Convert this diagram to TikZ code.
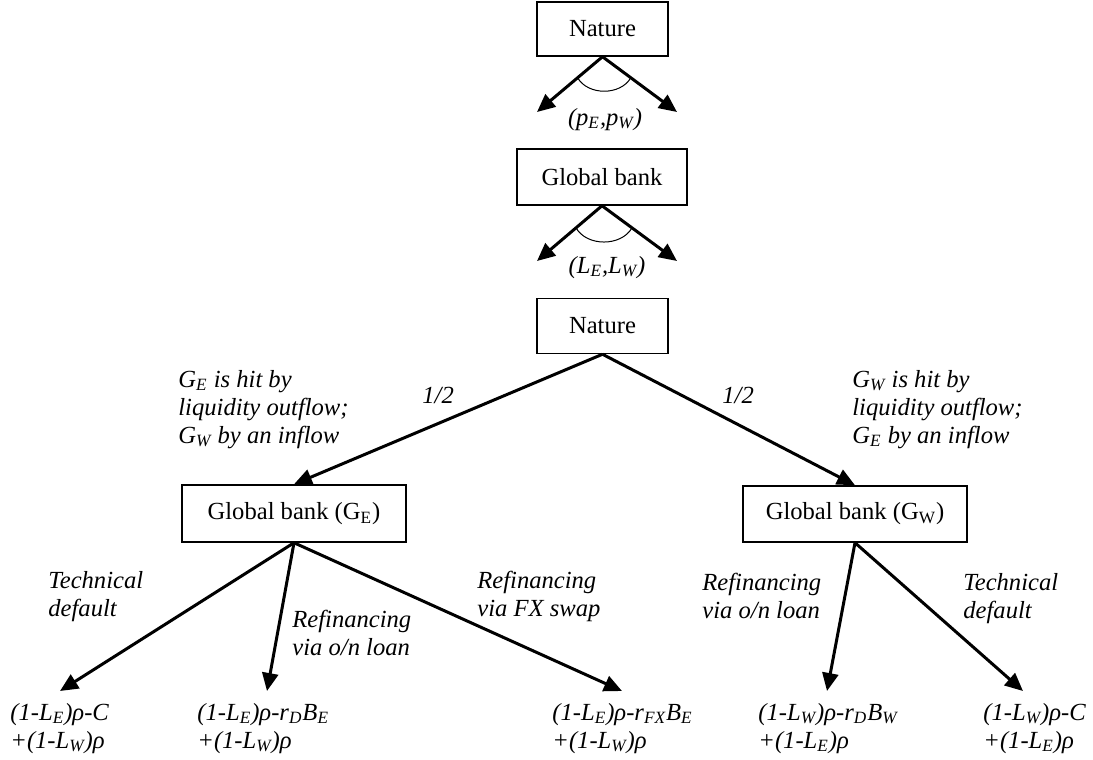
\documentclass[tikz,border=0pt]{standalone}
\usepackage{fontspec}
\setmainfont{Liberation Serif}
\usetikzlibrary{arrows.meta,calc}

\begin{document}
\begin{tikzpicture}[x=0.5pt,y=-0.5pt]
  \tikzset{BoxStyle/.style = {
    shape         = rectangle,
    draw          = black,
    fill          = white,
    line width    = 0.75pt,
    text          = black,
    inner sep     = 0pt,
    font          = \fontsize{12.3}{14}\selectfont
    }
  }
  \tikzset{ArrowStyle/.style = {
    draw          = black,
    line width    = 1.5pt,
    -{Triangle[length=9pt,width=8pt]}
    }
  }
  \tikzset{ArcStyle/.style = {
    draw          = black,
    line width    = 0.5pt
    }
  }
  \tikzset{LabelStyle/.style = {
    inner sep     = 0pt,
    align         = left,
    text          = black,
    font          = \fontsize{12.3}{14}\selectfont\itshape
    }
  }

  \useasboundingbox (0,0) rectangle (1093,760);

  % boxes
  \node[BoxStyle, minimum width=65.5pt, minimum height=27pt](N1) at (602.5, 29) {Nature};
  \node[BoxStyle, minimum width=85pt, minimum height=28pt](GB) at (602, 177) {Global bank};
  \node[BoxStyle, minimum width=65.5pt, minimum height=27.5pt](N2) at (602.5, 326) {Nature};
  \node[BoxStyle, minimum width=112pt, minimum height=28.5pt](GE) at (294, 513.5) {Global bank (G\textsubscript{E})};
  \node[BoxStyle, minimum width=112pt, minimum height=28pt](GW) at (855, 514) {Global bank (G\textsubscript{W})};

  % arrow ends
  \coordinate (T1a) at (537, 112);
  \coordinate (T1b) at (677, 112);
  \coordinate (T2a) at (537, 261);
  \coordinate (T2b) at (677, 261);
  \coordinate (E1) at (60, 691);
  \coordinate (E2) at (267, 691);
  \coordinate (E3) at (622, 691);
  \coordinate (W1) at (827, 691);
  \coordinate (W2) at (1023, 691);

  % choices
  \draw[ArrowStyle](N1.south) -- (T1a);
  \draw[ArrowStyle](N1.south) -- (T1b);
  \draw[ArcStyle]($(N1.south)!0.38!(T1a)$) to[out=-60,in=-120] ($(N1.south)!0.38!(T1b)$);
  \node[LabelStyle, anchor=base](PL) at (605, 125) {(p\textsubscript{E},p\textsubscript{W})};

  \draw[ArrowStyle](GB.south) -- (T2a);
  \draw[ArrowStyle](GB.south) -- (T2b);
  \draw[ArcStyle]($(GB.south)!0.4!(T2a)$) to[out=-60,in=-120] ($(GB.south)!0.4!(T2b)$);
  \node[LabelStyle, anchor=base](LL) at (607, 273) {(L\textsubscript{E},L\textsubscript{W})};

  \draw[ArrowStyle](N2.south) -- (GE.north);
  \draw[ArrowStyle](N2.south) -- (GW.north);
  \node[LabelStyle, anchor=base west](H1) at (422, 403) {1/2};
  \node[LabelStyle, anchor=base west](H2) at (722, 403) {1/2};
  \node[LabelStyle, anchor=base west](DE) at (178, 443) {G\textsubscript{E} is hit by\\liquidity outflow;\\G\textsubscript{W} by an inflow};
  \node[LabelStyle, anchor=base west](DW) at (852, 443) {G\textsubscript{W} is hit by\\liquidity outflow;\\G\textsubscript{E} by an inflow};

  \draw[ArrowStyle](GE.south) -- (E1);
  \draw[ArrowStyle](GE.south) -- (E2);
  \draw[ArrowStyle](GE.south) -- (E3);
  \draw[ArrowStyle](GW.south) -- (W1);
  \draw[ArrowStyle](GW.south) -- (W2);
  \node[LabelStyle, anchor=base west](TE) at (48, 616) {Technical\\default};
  \node[LabelStyle, anchor=base west](RE) at (292, 655) {Refinancing\\via o/n loan};
  \node[LabelStyle, anchor=base west](FE) at (477, 616) {Refinancing\\via FX swap};
  \node[LabelStyle, anchor=base west](RW) at (702, 618) {Refinancing\\via o/n loan};
  \node[LabelStyle, anchor=base west](TW) at (963, 618) {Technical\\default};

  % payoffs
  \node[LabelStyle, anchor=base west](OE1) at (10, 748) {(1-L\textsubscript{E})ρ-C\\+(1-L\textsubscript{W})ρ};
  \node[LabelStyle, anchor=base west](OE2) at (197, 748) {(1-L\textsubscript{E})ρ-r\textsubscript{D}B\textsubscript{E}\\+(1-L\textsubscript{W})ρ};
  \node[LabelStyle, anchor=base west](OE3) at (552, 748) {(1-L\textsubscript{E})ρ-r\textsubscript{FX}B\textsubscript{E}\\+(1-L\textsubscript{W})ρ};
  \node[LabelStyle, anchor=base west](OW1) at (758, 748) {(1-L\textsubscript{W})ρ-r\textsubscript{D}B\textsubscript{W}\\+(1-L\textsubscript{E})ρ};
  \node[LabelStyle, anchor=base west](OW2) at (983, 748) {(1-L\textsubscript{W})ρ-C\\+(1-L\textsubscript{E})ρ};

\end{tikzpicture}
\end{document}
